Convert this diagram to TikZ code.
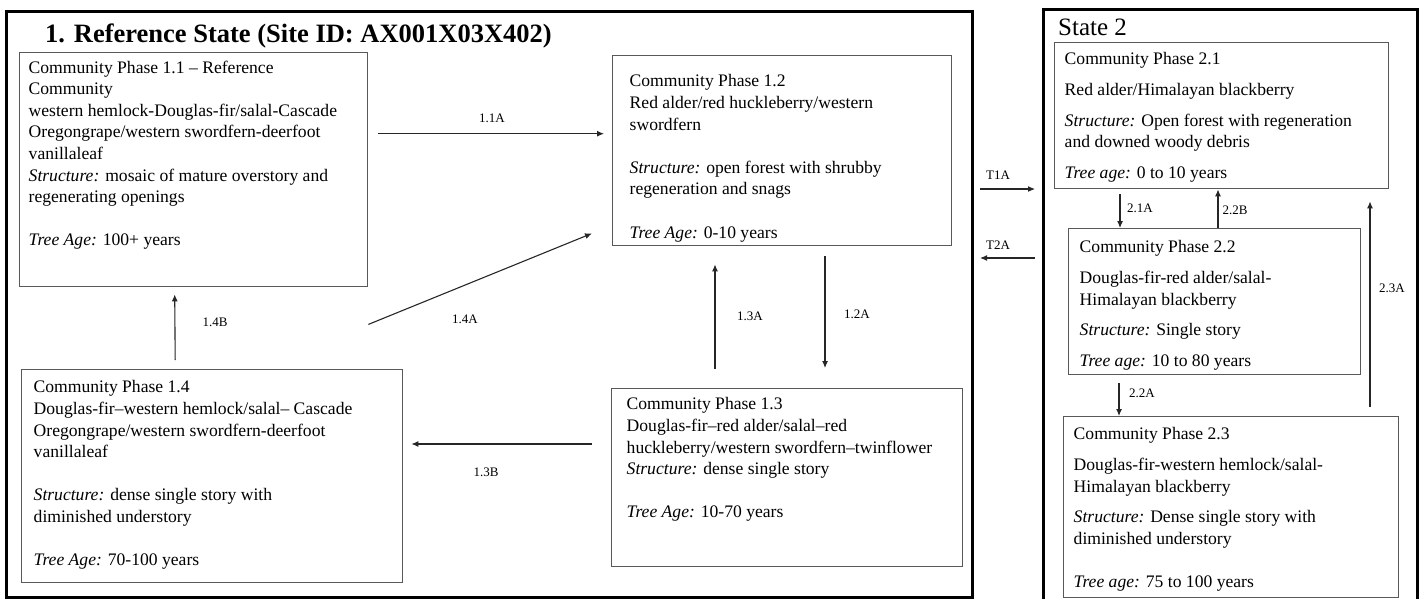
\documentclass[tikz,border=0pt]{standalone}
\usepackage{fontspec}
\setmainfont{Liberation Serif}
\usetikzlibrary{arrows.meta}
\newcommand{\phasefont}{\fontsize{17.6}{21.6}\selectfont}
\newcommand{\tagfont}{\fontsize{13}{15}\selectfont}
\begin{document}
\begin{tikzpicture}[x=1pt,y=-1pt,
		statebox/.style={draw=black,line width=3pt,anchor=north west,inner sep=0pt},
		phase/.style={draw=black!65,line width=1.4pt,anchor=north west,font=\phasefont},
		tag/.style={font=\tagfont,inner sep=1pt},
		trans/.style={-{Latex[length=7pt,width=6pt]},line width=1.1pt,black!85}]
		\useasboundingbox (0,0) rectangle (1423,599);
		\node[statebox,minimum width=966pt,minimum height=586pt] (s1) at (5,10) {};
		\node[statebox,minimum width=374pt,minimum height=600pt] (s2) at (1042,8) {};
		\node[anchor=base west,inner sep=0pt,font=\fontsize{26.5}{30}\selectfont\bfseries] (title1) at (45,43) {1. Reference State (Site ID: AX001X03X402)};
		\node[anchor=base west,inner sep=0pt,font=\fontsize{25}{28}\selectfont] (title2) at (1058,36) {State 2};
		\node[phase,inner xsep=9pt,inner ysep=8pt] (b11) at (19,52) {\parbox[t][218pt][t]{330pt}{\raggedright
			Community Phase 1.1 – Reference\\ Community\\ western hemlock-Douglas-fir/salal-Cascade\\ Oregongrape/western swordfern-deerfoot\\ vanillaleaf\\ \textit{Structure:} mosaic of mature overstory and\\ regenerating openings\\[\baselineskip] \textit{Tree Age:} 100+ years}};
		\node[phase,inner xsep=17pt,inner ysep=19pt] (b12) at (612,55) {\parbox[t][152pt][t]{305pt}{\raggedright
			Community Phase 1.2\\ Red alder/red huckleberry/western\\ swordfern\\[\baselineskip] \textit{Structure:} open forest with shrubby\\ regeneration and snags\\[\baselineskip] \textit{Tree Age:} 0-10 years}};
		\node[phase,inner xsep=15pt,inner ysep=9pt] (b13) at (611,388) {\parbox[t][160pt][t]{321pt}{\raggedright
			Community Phase 1.3\\ Douglas-fir–red alder/salal–red\\ huckleberry/western swordfern–twinflower\\ \textit{Structure:} dense single story\\[\baselineskip] \textit{Tree Age:} 10-70 years}};
		\node[phase,inner xsep=12pt,inner ysep=11pt] (b14) at (21,369) {\parbox[t][191pt][t]{357pt}{\raggedright
			Community Phase 1.4\\ Douglas-fir–western hemlock/salal– Cascade\\ Oregongrape/western swordfern-deerfoot\\ vanillaleaf\\[\baselineskip] \textit{Structure:} dense single story with\\ diminished understory\\[\baselineskip] \textit{Tree Age:} 70-100 years}};
		\node[phase,inner xsep=10pt,inner ysep=10pt] (b21) at (1054,42) {\parbox[t][126pt][t]{314pt}{\raggedright
			Community Phase 2.1\\[9pt] Red alder/Himalayan blackberry\\[9pt] \textit{Structure:} Open forest with regeneration\\ and downed woody debris\\[9pt] \textit{Tree age:} 0 to 10 years}};
		\node[phase,inner xsep=11pt,inner ysep=12pt] (b22) at (1068,228) {\parbox[t][122pt][t]{270pt}{\raggedright
			Community Phase 2.2\\[9pt] Douglas-fir-red alder/salal-\\ Himalayan blackberry\\[9pt] \textit{Structure:} Single story\\[9pt] \textit{Tree age:} 10 to 80 years}};
		\node[phase,inner xsep=10pt,inner ysep=11pt] (b23) at (1063,416) {\parbox[t][159pt][t]{315pt}{\raggedright
			Community Phase 2.3\\[9pt] Douglas-fir-western hemlock/salal-\\ Himalayan blackberry\\[9pt] \textit{Structure:} Dense single story with\\ diminished understory\\[22pt] \textit{Tree age:} 75 to 100 years}};
		\draw[trans] ([xshift=10pt,yshift=36pt]b11.east) -- ([xshift=-8pt,yshift=17pt]b12.west);
		\draw[trans] ([yshift=-37pt]b11.south east) -- ([xshift=-20pt,yshift=13pt]b12.south west);
		\draw[trans] ([xshift=-37pt,yshift=9pt]b14.north) -- ([xshift=-19pt,yshift=-7pt]b11.south);
		\draw[trans] ([xshift=-19pt,yshift=-56pt]b13.north west) -- ([xshift=8pt,yshift=-75pt]b14.north east);
		\draw[trans] ([xshift=104pt,yshift=19pt]b13.north west) -- ([xshift=103pt,yshift=-18pt]b12.south west);
		\draw[trans] ([xshift=213pt,yshift=-10pt]b12.south west) -- ([xshift=214pt,yshift=20pt]b13.north west);
		\draw[trans] ([xshift=6pt,yshift=-179pt]s1.north east) -- ([xshift=-7pt,yshift=-181pt]s2.north west);
		\draw[trans] ([xshift=-7pt,yshift=-250pt]s2.north west) -- ([xshift=6pt,yshift=-248pt]s1.north east);
		\draw[trans] ([xshift=66pt,yshift=-5pt]b21.south west) -- ([xshift=52pt]b22.north west);
		\draw[trans] ([xshift=150pt]b22.north west) -- ([xshift=164pt]b21.south west);
		\draw[trans] ([xshift=51pt,yshift=-8pt]b22.south west) -- ([xshift=56pt]b23.north west);
		\draw[trans] ([xshift=307pt,yshift=9pt]b23.north west) -- ([xshift=316pt,yshift=-12pt]b21.south west);
		\node[tag] (t11a) at (492,118) {1.1A};
		\node[tag] (t14a) at (465,319) {1.4A};
		\node[tag] (t14b) at (215,322) {1.4B};
		\node[tag] (t13b) at (486,472) {1.3B};
		\node[tag] (t13a) at (750,316) {1.3A};
		\node[tag] (t12a) at (857,314) {1.2A};
		\node[tag] (tt1a) at (998,175) {T1A};
		\node[tag] (tt2a) at (998,245) {T2A};
		\node[tag] (t21a) at (1140,208) {2.1A};
		\node[tag] (t22b) at (1235,210) {2.2B};
		\node[tag] (t22a) at (1142,393) {2.2A};
		\node[tag] (t23a) at (1392,288) {2.3A};
\end{tikzpicture}
\end{document}
